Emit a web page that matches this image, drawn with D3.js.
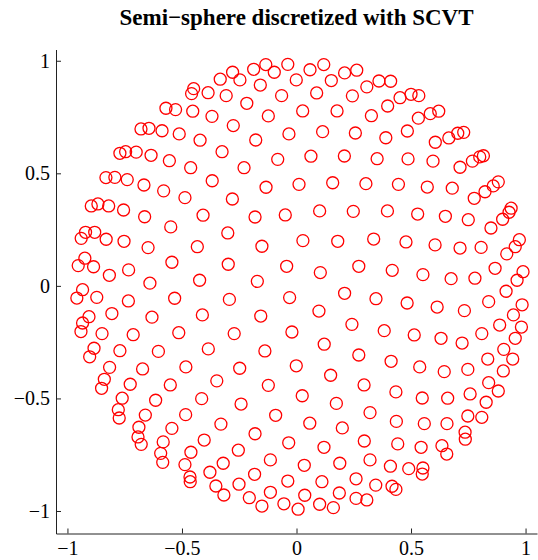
<!DOCTYPE html>
<html><head><meta charset="utf-8">
<script src="https://cdn.jsdelivr.net/npm/d3@7/dist/d3.min.js"></script>
<style>body{margin:0;background:#fff}svg{display:block}</style>
</head><body>
<svg id="chart" width="538" height="560"></svg>
<script>
const titleText = "Semi\u2212sphere discretized with SCVT";
const xTicks = [-1, -0.5, 0, 0.5, 1];
const yTicks = [-1, -0.5, 0, 0.5, 1];
const xDomain = [-1.05, 1.05];
const yDomain = [-1.1, 1.05];

const xValues = [
-0.449,-0.458,-0.386,-0.570,-0.528,-0.453,-0.369,-0.679,-0.644,-0.587,-0.512,-0.421,-0.771,-0.746,-0.700,-0.635,-0.555,-0.462,-0.368,-0.832,-0.793,-0.739,-0.666,-0.580,-0.487,-0.896,-0.867,-0.820,-0.755,
-0.333,-0.279,-0.247,-0.187,-0.134,-0.097,-0.038,-0.001,0.059,0.119,0.152,0.210,0.263,-0.307,-0.158,-0.065,0.088,0.244,-0.217,-0.123,0.027,0.177,-0.276,-0.178,-0.033,0.114,0.257,-0.325,-0.082,0.063,0.209,-0.229,-0.133,0.011,0.158,-0.280,
0.307,0.360,0.411,0.452,0.500,0.534,0.398,0.327,0.532,0.584,0.621,0.390,0.484,0.606,0.665,0.704,0.730,0.352,0.487,0.596,0.714,0.768,0.800,0.816,0.303,0.445,0.571,0.680,0.776,0.823,0.859,0.881,0.937,
-0.663,-0.408,-0.549,-0.921,-0.881,-0.940,-0.831,-0.753,-0.648,-0.433,-0.924,-0.953,-0.886,-0.544,-0.733,-0.817,-0.423,-0.640,-0.934,-0.959,-0.872,-0.532,-0.734,-0.806,-0.411,-0.631,-0.906,-0.934,-0.941,-0.849,-0.713,-0.514,-0.884,-0.903,-0.771,-0.603,-0.385,
-0.181,-0.049,0.101,0.248,-0.300,-0.151,0.028,0.180,-0.298,-0.043,0.104,0.272,-0.171,-0.293,-0.030,0.210,-0.156,0.098,-0.272,-0.020,0.242,-0.138,0.121,0.272,
0.397,0.529,0.650,0.750,0.928,0.900,0.849,0.337,0.478,0.605,0.714,0.806,0.973,0.955,0.918,0.418,0.552,0.675,0.779,0.867,0.989,0.963,0.915,0.347,0.483,0.614,0.733,0.839,0.985,0.947,0.982,0.887,0.383,0.514,0.631,0.723,0.809,0.955,0.905,0.835,0.944,
-0.816,-0.672,-0.483,-0.839,-0.851,-0.726,-0.551,-0.761,-0.615,-0.414,-0.778,-0.774,-0.660,-0.484,-0.688,-0.544,-0.692,-0.678,-0.582,-0.403,-0.461,-0.593,-0.584,-0.487,-0.378,-0.465,-0.464,
-0.248,-0.001,0.149,-0.348,-0.123,0.295,0.025,-0.242,0.174,-0.091,-0.330,0.058,0.200,-0.181,-0.034,0.296,0.120,-0.254,-0.114,-0.320,0.034,0.189,-0.183,-0.352,-0.251,-0.038,0.111,0.260,-0.317,-0.206,-0.114,0.036,0.187,0.260,-0.151,-0.055,0.007,0.101,0.161,
0.413,0.538,0.645,0.748,0.903,0.839,0.881,0.828,0.434,0.549,0.660,0.758,0.321,0.436,0.558,0.657,0.748,0.809,0.736,0.737,0.442,0.544,0.635,0.656,0.321,0.410,0.490,0.552,0.549,0.346,0.417,0.434,0.307
];
const yValues = [
0.876,0.854,0.858,0.789,0.783,0.776,0.753,0.697,0.700,0.689,0.675,0.647,0.589,0.596,0.594,0.580,0.556,0.525,0.467,0.481,0.482,0.472,0.448,0.422,0.392,0.355,0.364,0.355,0.337,
0.918,0.949,0.915,0.962,0.983,0.949,0.984,0.915,0.960,0.983,0.912,0.946,0.958,0.845,0.892,0.845,0.857,0.844,0.811,0.755,0.777,0.777,0.712,0.648,0.675,0.685,0.679,0.596,0.562,0.576,0.577,0.525,0.438,0.451,0.458,0.386,
0.884,0.910,0.909,0.836,0.851,0.845,0.799,0.756,0.745,0.765,0.776,0.658,0.688,0.638,0.657,0.678,0.682,0.565,0.564,0.554,0.527,0.554,0.573,0.578,0.454,0.451,0.439,0.434,0.389,0.418,0.444,0.462,0.345,
0.307,0.314,0.262,0.238,0.238,0.211,0.207,0.198,0.170,0.174,0.123,0.090,0.085,0.105,0.071,0.047,0.025,0.012,-0.017,-0.054,-0.051,-0.055,-0.067,-0.123,-0.129,-0.139,-0.137,-0.165,-0.203,-0.212,-0.217,-0.208,-0.277,-0.315,-0.288,-0.291,-0.280,
0.306,0.315,0.333,0.331,0.235,0.176,0.201,0.198,0.096,0.087,0.059,0.087,0.020,-0.060,-0.052,-0.033,-0.134,-0.112,-0.212,-0.205,-0.171,-0.289,-0.259,-0.307,
0.333,0.319,0.309,0.294,0.327,0.296,0.257,0.208,0.195,0.182,0.168,0.171,0.205,0.174,0.142,0.069,0.050,0.032,0.034,0.078,0.063,0.025,-0.024,-0.057,-0.076,-0.094,-0.110,-0.070,-0.084,-0.129,-0.183,-0.174,-0.199,-0.218,-0.233,-0.254,-0.212,-0.233,-0.282,-0.325,-0.325,
-0.362,-0.369,-0.360,-0.415,-0.455,-0.437,-0.440,-0.499,-0.508,-0.501,-0.550,-0.587,-0.574,-0.572,-0.628,-0.633,-0.671,-0.704,-0.693,-0.685,-0.739,-0.744,-0.784,-0.794,-0.828,-0.849,-0.870,
-0.366,-0.355,-0.397,-0.422,-0.442,-0.440,-0.488,-0.525,-0.522,-0.575,-0.614,-0.610,-0.631,-0.657,-0.697,-0.689,-0.717,-0.730,-0.773,-0.788,-0.797,-0.788,-0.837,-0.889,-0.881,-0.867,-0.870,-0.857,-0.929,-0.941,-0.917,-0.930,-0.920,-0.944,-0.978,-0.968,-0.992,-0.970,-0.985,
-0.335,-0.360,-0.381,-0.371,-0.378,-0.430,-0.467,-0.517,-0.471,-0.498,-0.499,-0.480,-0.563,-0.602,-0.612,-0.612,-0.578,-0.584,-0.650,-0.681,-0.702,-0.717,-0.710,-0.747,-0.773,-0.801,-0.812,-0.809,-0.836,-0.885,-0.890,-0.904,-0.951
];

const svg = d3.select("#chart");
const plot = {left: 56, right: 537, top: 49.5, bottom: 533.5};
const x = d3.scaleLinear().domain(xDomain).range([plot.left, plot.right]);
const y = d3.scaleLinear().domain(yDomain).range([plot.bottom, plot.top]);
const fmt = d => (d < 0 ? "\u2212" : "") + String(Math.abs(d));
const font = "'Liberation Serif','Times New Roman',serif";

svg.append("text")
  .attr("x", (plot.left + plot.right) / 2).attr("y", 25)
  .attr("text-anchor", "middle")
  .attr("font-family", font).attr("font-weight", "bold").attr("font-size", 23)
  .attr("fill", "#000").text(titleText);

const pts = d3.range(xValues.length).map(i => [xValues[i], yValues[i]]);
svg.append("g").selectAll("circle").data(pts).join("circle")
  .attr("cx", d => x(d[0])).attr("cy", d => y(d[1])).attr("r", 6)
  .attr("fill", "none").attr("stroke", "#ff0000").attr("stroke-width", 1.3);

const xAxis = svg.append("g").attr("transform", `translate(0,${plot.bottom})`)
  .call(d3.axisBottom(x).tickValues(xTicks).tickFormat(fmt).tickSizeInner(-5).tickSizeOuter(0).tickPadding(7));
const yAxis = svg.append("g").attr("transform", `translate(${plot.left},0)`)
  .call(d3.axisLeft(y).tickValues(yTicks).tickFormat(fmt).tickSizeInner(-5).tickSizeOuter(0).tickPadding(6));
[xAxis, yAxis].forEach(a => {
  a.selectAll("text").attr("font-family", font).attr("font-size", 20).attr("fill", "#000");
  a.selectAll("line").attr("stroke", "#222");
  a.select(".domain").attr("stroke", "#222");
});
</script>
</body></html>
